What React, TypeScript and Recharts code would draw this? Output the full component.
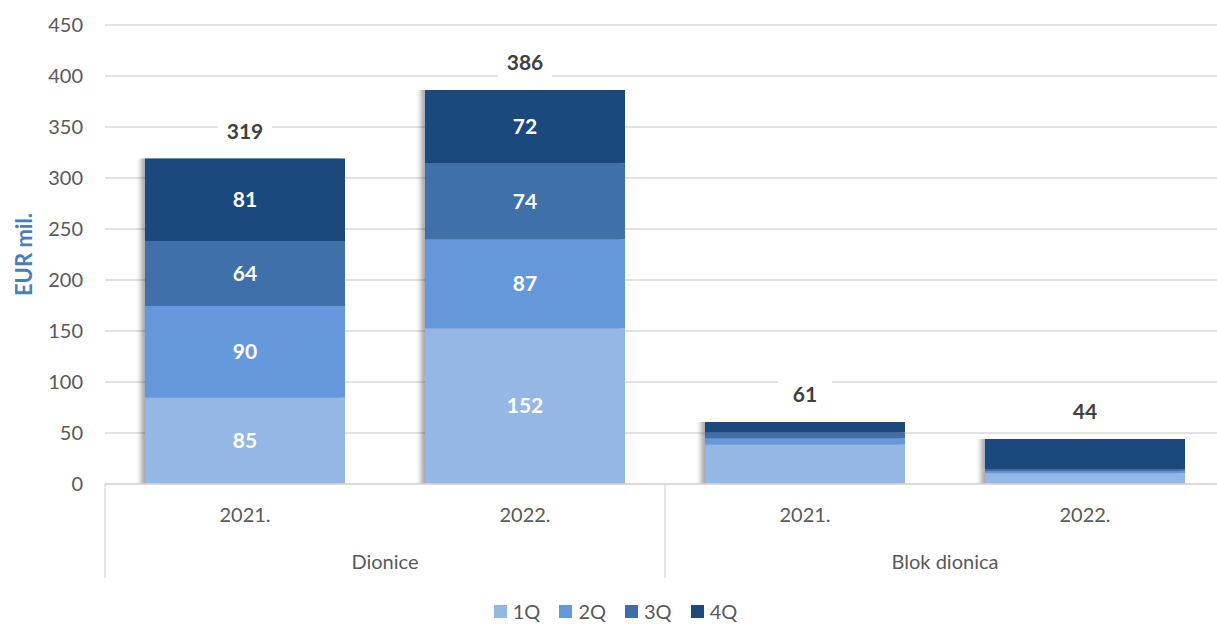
import { BarChart, Bar, XAxis, YAxis, CartesianGrid, Legend, LabelList } from 'recharts';

const groups = ['Dionice', 'Dionice', 'Blok dionica', 'Blok dionica'];
const years = ['2021.', '2022.', '2021.', '2022.'];
const q1 = [84.6, 152.4, 38.6, 10.6];
const q2 = [89.8, 87.3, 6, 1.8];
const q3 = [63.8, 74.4, 6, 1.8];
const q4 = [80.8, 72.2, 10.2, 29.8];
const labelledGroups = ['Dionice'];
const yTicks = [0, 50, 100, 150, 200, 250, 300, 350, 400, 450];

const series = [
  { key: 'q1', name: '1Q', color: '#95B7E5' },
  { key: 'q2', name: '2Q', color: '#6699DB' },
  { key: 'q3', name: '3Q', color: '#3F6FAA' },
  { key: 'q4', name: '4Q', color: '#1F497D' },
];

const data = years.map((year, i) => ({
  id: `${groups[i]}-${year}`,
  group: groups[i],
  year,
  q1: q1[i],
  q2: q2[i],
  q3: q3[i],
  q4: q4[i],
  total: q1[i] + q2[i] + q3[i] + q4[i],
}));

const FONT = 'Lato, "Liberation Sans", sans-serif';

const CategoryTick = (props: any) => {
  const { x, y, index, payload } = props;
  const half = payload.offset || 140;
  const row = data[index];
  const firstOfGroup = index === 0 || data[index - 1].group !== row.group;
  const lastOfGroup = index === data.length - 1;
  return (
    <g>
      <text x={x} y={y + 38} textAnchor="middle" fill="#595959" fontSize={20} fontFamily={FONT}>
        {row.year}
      </text>
      {firstOfGroup && (
        <>
          <line x1={x - half} x2={x - half} y1={y} y2={y + 94} stroke="#D9D9D9" strokeWidth={1.3} />
          <text x={x + half} y={y + 85} textAnchor="middle" fill="#595959" fontSize={20} fontFamily={FONT}>
            {row.group}
          </text>
        </>
      )}
      {lastOfGroup && (
        <line x1={x + half} x2={x + half} y1={y} y2={y + 94} stroke="#D9D9D9" strokeWidth={1.3} />
      )}
    </g>
  );
};

const innerLabel = (props: any) => {
  const { x, y, width, height, value, index } = props;
  if (!labelledGroups.includes(data[index].group)) return null;
  return (
    <text
      x={x + width / 2}
      y={y + height / 2}
      dy={7}
      textAnchor="middle"
      fill="#FFFFFF"
      fontSize={21}
      fontWeight={700}
      fontFamily={FONT}
    >
      {Math.round(value)}
    </text>
  );
};

const totalLabel = (props: any) => {
  const { x, y, width, index } = props;
  const cx = x + width / 2;
  const cy = y - 27;
  return (
    <g>
      <rect x={cx - 27} y={cy - 14} width={54} height={28} fill="#FFFFFF" />
      <text x={cx} y={cy} dy={7} textAnchor="middle" fill="#404040" fontSize={21} fontWeight={700} fontFamily={FONT}>
        {Math.round(data[index].total)}
      </text>
    </g>
  );
};

const LegendContent = () => (
  <div style={{ height: 46, display: 'flex', justifyContent: 'center', alignItems: 'center', paddingTop: 20, paddingLeft: 6, boxSizing: 'border-box' }}>
    {series.map((s, i) => (
      <div key={s.key} style={{ display: 'flex', alignItems: 'center', marginRight: i < series.length - 1 ? 19 : 0 }}>
        <span style={{ width: 13, height: 13, background: s.color, display: 'inline-block', marginRight: 6 }} />
        <span style={{ color: '#595959', fontSize: 20, fontFamily: FONT }}>{s.name}</span>
      </div>
    ))}
  </div>
);

const App = () => (
  <div style={{ width: 1217, height: 624, overflow: 'hidden', background: '#FFFFFF' }}>
    <style>{'body{margin:0} .recharts-bar-rectangles{filter:url(#barShadow)}'}</style>
    <svg width={0} height={0} style={{ position: 'absolute' }}>
      <defs>
        <filter id="barShadow" x="-10%" y="-5%" width="120%" height="110%">
          <feGaussianBlur in="SourceAlpha" stdDeviation="2.5 0" result="blur" />
          <feOffset in="blur" dx={-4} dy={0} result="off" />
          <feFlood floodColor="#000000" floodOpacity={0.35} result="col" />
          <feComposite in="col" in2="off" operator="in" result="shadow" />
          <feMerge>
            <feMergeNode in="shadow" />
            <feMergeNode in="SourceGraphic" />
          </feMerge>
        </filter>
      </defs>
    </svg>
    <BarChart width={1240} height={624} data={data} margin={{ top: 25, right: 15, bottom: 0, left: 0 }}>
      <CartesianGrid vertical={false} stroke="#D9D9D9" strokeWidth={1.3} />
      <XAxis
        dataKey="id"
        height={94}
        axisLine={{ stroke: '#D9D9D9', strokeWidth: 1.3 }}
        tickLine={false}
        tickSize={0}
        tickMargin={0}
        interval={0}
        tick={<CategoryTick />}
      />
      <YAxis
        width={105}
        domain={[0, 450]}
        ticks={yTicks}
        axisLine={false}
        tickLine={false}
        tickSize={0}
        tickMargin={22}
        tick={{ fill: '#595959', fontSize: 20, fontFamily: FONT }}
        label={{
          value: 'EUR mil.',
          angle: -90,
          position: 'insideLeft',
          offset: 24,
          style: { fill: '#4A7EBB', fontSize: 22, fontWeight: 700, fontFamily: FONT, textAnchor: 'middle' },
        }}
      />
      <Legend verticalAlign="bottom" content={<LegendContent />} />
      {series.map((s, i) => (
        <Bar key={s.key} dataKey={s.key} name={s.name} stackId="a" fill={s.color} barSize={200} isAnimationActive={false}>
          <LabelList dataKey={s.key} content={innerLabel} />
          {i === series.length - 1 && <LabelList dataKey={s.key} content={totalLabel} />}
        </Bar>
      ))}
    </BarChart>
  </div>
);

export default App;
